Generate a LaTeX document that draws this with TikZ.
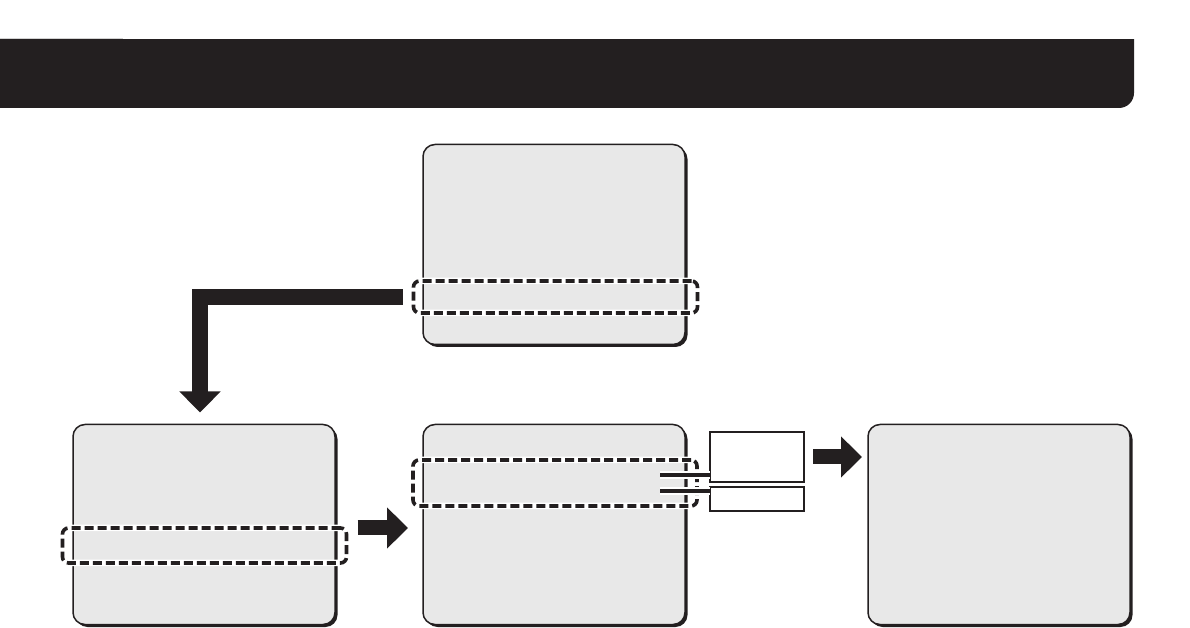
\documentclass[tikz,border=0pt]{standalone}
\usepackage{tikz}
\usepackage{xcolor}
\usetikzlibrary{arrows.meta, positioning, shadows}

\definecolor{ink}{HTML}{231F20}
\definecolor{panel}{HTML}{E8E8E8}
\newlength\px
\setlength\px{0.03cm}

\begin{document}
\begin{tikzpicture}[
  x=\px, y=-\px,
  screen/.style={rectangle, draw=ink, fill=panel, line width=1.5\px,
                 rounded corners=12\px, minimum width=262\px, minimum height=200\px,
                 inner sep=0pt, outer sep=0pt,
                 drop shadow={shadow xshift=2.5\px, shadow yshift=-2.5\px,
                              fill=ink, opacity=1}},
  zone/.style={rectangle, draw=ink, line width=3.6\px, rounded corners=6\px,
               dash pattern=on 9\px off 4\px, inner sep=0pt, outer sep=0pt,
               minimum width=284\px,
               preaction={draw=white, line width=6.5\px, solid}},
  tag/.style={rectangle, draw=ink, fill=white, line width=2\px,
              minimum width=94\px, inner sep=0pt, outer sep=0pt},
  lead/.style={draw=ink, line width=4.5\px,
               preaction={draw=white, line width=8.5\px}},
  fatarrow/.style={draw=ink, line width=15\px,
                   -{Triangle[width=1.2cm, length=0.63cm]}}
]
\useasboundingbox (0,0) rectangle (1190,628);

% Header bar
\draw[gray!35, line width=1\px] (0,39) -- (123,39);
\begin{scope}
  \clip (0,40) rectangle (1190,108);
  \fill[ink, rounded corners=15\px] (-40,0) rectangle (1134,108);
\end{scope}

% Screens
\node[screen] (left) at (204,524.5) {};
\node[screen, right=88\px of left] (mid) {};
\node[screen, above=80\px of mid] (top) {};
\node[screen, right=183\px of mid] (right) {};

% Dashed zones
\node[zone, minimum height=32\px] (dtop) at (555.5,297) {};
\node[zone, minimum height=35\px] (dleft) at (204.5,545.5) {};
\node[zone, minimum height=46\px] (dmid) at (555,483) {};

% Two small tags beside the middle screen
\node[tag, minimum height=50\px] (sig) at (757,457) {};
\node[tag, minimum height=24\px] (crc) at (757,499) {};

\coordinate (ta) at (660,475);
\coordinate (tb) at (660,491);
\draw[lead] (ta) -- (ta -| sig.west);
\draw[lead] (tb) -- (tb -| crc.west);

% Arrows
\draw[fatarrow, line width=0.48cm, shorten <=0.33cm, shorten >=0.36cm]
  (dtop.west) -| ([xshift=-0.12cm]left.north);
\draw[fatarrow] ([shift={(0.33cm,0.525cm)}]dleft.east)
  -- ([shift={(-0.15cm,0.525cm)}]dleft.east -| dmid.west);
\draw[fatarrow] ([xshift=0.27cm]sig.east) -- ([xshift=-0.18cm]sig.east -| right.west);

\end{tikzpicture}
\end{document}
